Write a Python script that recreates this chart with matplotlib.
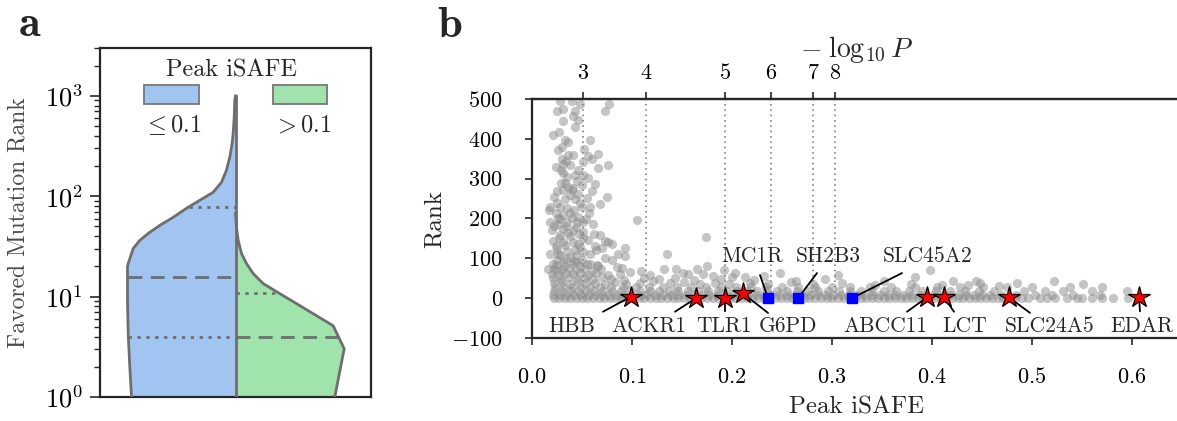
import numpy as np
import matplotlib
matplotlib.use("Agg")
import matplotlib.pyplot as plt
from matplotlib.patches import Rectangle

plt.rcParams['font.family'] = 'serif'
plt.rcParams['font.serif'] = ['cmr10']
plt.rcParams['mathtext.fontset'] = 'cm'
plt.rcParams['axes.formatter.use_mathtext'] = True
plt.rcParams['text.color'] = '#262626'
plt.rcParams['axes.labelcolor'] = '#262626'

# ---------------- panel a: split violin, log10(rank) vs half width ----------------
low_logr = [0, 0.30, 0.63, 0.96, 1.30, 1.33, 1.48, 1.56, 1.63, 1.71, 1.79, 1.88, 1.96, 2.04, 2.14, 2.26, 2.39, 2.53, 2.63, 2.79, 2.96, 3.0]
low_width = [104, 105.7, 107.3, 108, 108, 107.3, 102.3, 95.7, 87.3, 75.7, 62.3, 49, 35.7, 22.3, 14, 9, 5.7, 3.3, 2.3, 1.3, 0.7, 0]
high_logr = [0, 0.48, 0.71, 0.83, 0.95, 1.03, 1.13, 1.23, 1.33, 1.43, 1.56, 1.69, 1.83]
high_width = [99.3, 108.7, 97.7, 77.7, 57.7, 44.3, 27.7, 17.7, 11, 6, 2.7, 1, 0]
low_quart = [4.0, 15.7, 78]
low_quart_style = ['dotted', 'dashed', 'dotted']
high_quart = [4.0, 10.9]
high_quart_style = ['dashed', 'dotted']

# ---------------- panel b: scatter of rank vs peak iSAFE ----------------
upper_x = [0.028, 0.040, 0.048, 0.077, 0.025, 0.031, 0.043, 0.073, 0.041, 0.031, 0.046, 0.043, 0.027, 0.021,
           0.033, 0.036, 0.058, 0.026, 0.041, 0.056, 0.060, 0.066, 0.030, 0.031, 0.051, 0.076, 0.066, 0.029,
           0.031, 0.043, 0.035, 0.051, 0.056, 0.033, 0.063, 0.036, 0.041, 0.050, 0.025, 0.031, 0.040, 0.060,
           0.055, 0.075, 0.033, 0.043, 0.025, 0.068, 0.018, 0.028, 0.035, 0.050, 0.058, 0.038, 0.031, 0.105,
           0.026, 0.040, 0.035, 0.045, 0.051, 0.061, 0.026, 0.017, 0.018, 0.020, 0.031, 0.041, 0.051, 0.068,
           0.028, 0.038, 0.051, 0.056, 0.021, 0.031, 0.041, 0.046, 0.073, 0.076, 0.063, 0.070, 0.080, 0.025,
           0.035, 0.043, 0.086, 0.093, 0.051, 0.058, 0.028, 0.038, 0.073, 0.080, 0.021, 0.031, 0.045, 0.055,
           0.065, 0.085, 0.090, 0.098, 0.016, 0.025, 0.135, 0.174, 0.093, 0.132, 0.144, 0.165, 0.175, 0.151,
           0.171, 0.181, 0.203, 0.200, 0.213, 0.248, 0.398, 0.522, 0.551, 0.444, 0.448, 0.485,
           0.024, 0.033, 0.048, 0.027, 0.036, 0.047, 0.022, 0.034, 0.044, 0.028, 0.046, 0.054, 0.024, 0.042,
           0.048, 0.022, 0.038, 0.046, 0.029, 0.045, 0.024, 0.038, 0.046, 0.034, 0.052, 0.036, 0.030, 0.057,
           0.062, 0.064]
upper_y = [496, 496, 488, 488, 471, 474, 471, 471, 458, 446, 447, 429, 417, 409,
           398, 392, 396, 371, 360, 356, 350, 363, 350, 337, 342, 334, 328, 321,
           313, 308, 304, 308, 302, 288, 286, 280, 277, 284, 269, 271, 271, 269,
           252, 254, 248, 248, 240, 237, 230, 228, 227, 228, 228, 213, 210, 197,
           202, 202, 190, 192, 190, 186, 186, 221, 192, 170, 173, 170, 166, 159,
           158, 156, 150, 146, 144, 141, 141, 135, 144, 141, 131, 125, 135, 123,
           118, 120, 112, 125, 116, 112, 108, 104, 100, 96, 87, 91, 91, 87,
           83, 79, 75, 66, 72, 71, 112, 154, 105, 72, 72, 74, 80, 64,
           60, 56, 64, 52, 54, 62, 71, 42, 36, 42, 37, 39,
           130, 133, 128, 150, 163, 160, 182, 180, 178, 198, 205, 198, 215, 222,
           238, 255, 260, 262, 290, 295, 330, 335, 322, 345, 375, 360, 380, 215,
           160, 120]

mid_x = [0.022, 0.030, 0.038, 0.046, 0.054, 0.063, 0.073, 0.083, 0.094, 0.108, 0.121, 0.138, 0.152, 0.168,
         0.183, 0.197, 0.218, 0.236, 0.259, 0.281, 0.310, 0.343, 0.379, 0.410, 0.436, 0.467,
         0.021, 0.029, 0.037, 0.045, 0.053, 0.061, 0.070, 0.079, 0.092, 0.112, 0.127, 0.143, 0.162, 0.189,
         0.222, 0.264, 0.293, 0.352, 0.421,
         0.020, 0.027, 0.034, 0.041, 0.048, 0.056, 0.064, 0.076, 0.088, 0.118, 0.156, 0.232, 0.306, 0.383,
         0.022, 0.030, 0.037, 0.044, 0.052, 0.060, 0.069, 0.109, 0.192,
         0.024, 0.032, 0.040, 0.048, 0.058, 0.066, 0.025, 0.034, 0.042, 0.050, 0.018, 0.026, 0.044]
mid_y = [38, 40, 36, 41, 37, 39, 35, 40, 36, 38, 42, 37, 40, 36,
         39, 35, 38, 36, 40, 35, 37, 33, 36, 32, 34, 30,
         50, 48, 52, 49, 51, 47, 53, 49, 46, 50, 47, 51, 45, 48,
         46, 44, 47, 43, 44,
         61, 58, 63, 60, 64, 59, 62, 57, 60, 58, 61, 55, 57, 54,
         72, 70, 75, 71, 74, 69, 72, 69, 70,
         84, 82, 86, 81, 85, 80, 95, 98, 94, 97, 110, 110, 108]

# dense band close to rank 0, one list of positions per rank level
band_rank = [1, 9, 18, 27]
band_rows = [
    [0.022, 0.027, 0.033, 0.038, 0.044, 0.05, 0.055, 0.061, 0.067, 0.072, 0.078, 0.084, 0.089, 0.095, 0.101,
     0.107, 0.112, 0.118, 0.124, 0.129, 0.135, 0.141, 0.146, 0.152, 0.158, 0.163, 0.169, 0.175, 0.181, 0.186,
     0.192, 0.198, 0.203, 0.209, 0.215, 0.22, 0.226, 0.232, 0.238, 0.243, 0.249, 0.255, 0.26, 0.266, 0.272,
     0.277, 0.283, 0.289, 0.295, 0.3, 0.306, 0.312, 0.317, 0.323, 0.329, 0.334, 0.34, 0.346, 0.352, 0.357,
     0.363, 0.369, 0.374, 0.38, 0.386, 0.391, 0.397, 0.403, 0.409, 0.414, 0.42, 0.426, 0.431, 0.437, 0.443,
     0.448, 0.454, 0.46, 0.466, 0.471, 0.477, 0.483, 0.49, 0.496, 0.508, 0.515, 0.523, 0.535, 0.545, 0.55,
     0.56, 0.57, 0.581, 0.596],
    [0.021, 0.028, 0.035, 0.042, 0.049, 0.056, 0.063, 0.07, 0.077, 0.085, 0.092, 0.1, 0.108, 0.115, 0.123,
     0.131, 0.139, 0.146, 0.154, 0.162, 0.17, 0.177, 0.185, 0.193, 0.201, 0.208, 0.216, 0.224, 0.232, 0.239,
     0.247, 0.255, 0.263, 0.27, 0.278, 0.286, 0.294, 0.301, 0.309, 0.317, 0.325, 0.332, 0.34, 0.348, 0.356,
     0.363, 0.371, 0.379, 0.387, 0.394, 0.402, 0.41, 0.418, 0.426, 0.434, 0.442, 0.45, 0.458, 0.469, 0.484,
     0.503, 0.52, 0.541, 0.568],
    [0.022, 0.03, 0.038, 0.046, 0.054, 0.062, 0.071, 0.08, 0.089, 0.098, 0.108, 0.118, 0.127, 0.137, 0.146,
     0.156, 0.166, 0.176, 0.186, 0.195, 0.205, 0.215, 0.225, 0.235, 0.245, 0.255, 0.265, 0.276, 0.286, 0.296,
     0.307, 0.318, 0.329, 0.34, 0.352, 0.364, 0.377, 0.39, 0.404, 0.418, 0.433, 0.447, 0.462, 0.492, 0.513,
     0.531, 0.56, 0.595],
    [0.023, 0.031, 0.04, 0.049, 0.058, 0.068, 0.079, 0.091, 0.104, 0.117, 0.131, 0.145, 0.159, 0.174, 0.189,
     0.204, 0.219, 0.234, 0.25, 0.266, 0.283, 0.3, 0.318, 0.338, 0.359, 0.383, 0.405, 0.428, 0.451, 0.475,
     0.5, 0.538, 0.57],
]

genes = ['HBB', 'ACKR1', 'TLR1', 'G6PD', 'MC1R', 'SH2B3', 'SLC45A2', 'ABCC11', 'LCT', 'SLC24A5', 'EDAR']
gene_x = [0.099, 0.164, 0.193, 0.211, 0.236, 0.266, 0.320, 0.395, 0.412, 0.477, 0.607]
gene_y = [4, 0, 0, 12, 0, 0, 0, 2, 2, 2, 2]
gene_star = [True, True, True, True, False, False, False, True, True, True, True]

# -log10 P reference lines
logp = [3, 4, 5, 6, 7, 8]
logp_isafe = [0.0507, 0.1137, 0.1933, 0.2387, 0.2813, 0.3027]

# label layout: text centre and leader line start (data coords)
lab_pos = [(0.040, -71), (0.117, -71), (0.192, -71), (0.256, -71), (0.220, 104), (0.296, 104),
           (0.396, 104), (0.353, -71), (0.433, -71), (0.518, -71), (0.610, -71)]
lead_pos = [(0.071, -34), (0.143, -34), (0.193, -33), (0.236, -37), (0.228, 58), (0.285, 63),
            (0.370, 63), (0.375, -34), (0.422, -34), (0.498, -37), (0.608, -33)]

edge = '#6e6e6e'
blue = '#a1c5f0'
green = '#a0e3ad'
spine_c = '#262626'

fig = plt.figure(figsize=(11.77, 4.21), dpi=100)

# ---------------- panel a ----------------
ax = fig.add_axes([100/1177, 24/421, 271/1177, 349/421])
ax.set_yscale('log')
sc = 135.5
lr = 10**np.array(low_logr)
hr = 10**np.array(high_logr)
lw_ = np.array(low_width)/sc
hw_ = np.array(high_width)/sc
ax.fill_betweenx(lr, -lw_, 0, color=blue, lw=0, zorder=1)
ax.fill_betweenx(hr, 0, hw_, color=green, lw=0, zorder=1)
ax.plot(-lw_, lr, color=edge, lw=2.0, zorder=3, solid_joinstyle='round')
ax.plot(hw_, hr, color=edge, lw=2.0, zorder=3, solid_joinstyle='round')
ax.plot([0, 0], [1, lr[-1]], color=edge, lw=2.0, zorder=3)

dash_map = {'dashed': (0, (5, 3)), 'dotted': (0, (1.2, 2))}
for q, st in zip(low_quart, low_quart_style):
    w = np.interp(np.log10(q), low_logr, low_width)/sc
    ax.plot([-w, 0], [q, q], color=edge, lw=2.0, ls=dash_map[st], zorder=2)
for q, st in zip(high_quart, high_quart_style):
    w = np.interp(np.log10(q), high_logr, high_width)/sc
    ax.plot([0, w], [q, q], color=edge, lw=2.0, ls=dash_map[st], zorder=2)

ax.set_xlim(-1, 1)
ax.set_ylim(1, 3000)
ax.set_xticks([])
ax.tick_params(axis='y', which='major', length=7.5, width=1.2, pad=5, labelsize=19, color=spine_c)
ax.tick_params(axis='y', which='minor', length=4, width=1.0, color=spine_c)
for s in ax.spines.values():
    s.set_linewidth(1.6)
    s.set_color(spine_c)
ax.set_ylabel('Favored Mutation Rank', fontsize=17, color='#4a4a4a')
ax.yaxis.set_label_coords(-0.259, 0.5)

# legend drawn by hand: title, patches, labels below
ax.text(0.484, 0.937, 'Peak iSAFE', transform=ax.transAxes, ha='center', va='center', fontsize=17.5)
ax.add_patch(Rectangle((0.162, 0.840), 0.203, 0.054, transform=ax.transAxes,
                       facecolor=blue, edgecolor='#777777', lw=1.3))
ax.add_patch(Rectangle((0.638, 0.840), 0.200, 0.054, transform=ax.transAxes,
                       facecolor=green, edgecolor='#777777', lw=1.3))
ax.text(0.266, 0.779, r'$\leq 0.1$', transform=ax.transAxes, ha='center', va='center', fontsize=17.5)
ax.text(0.745, 0.779, r'$> 0.1$', transform=ax.transAxes, ha='center', va='center', fontsize=17.5)

# ---------------- panel b ----------------
bx = fig.add_axes([532/1177, 83/421, 650/1177, 239/421])
for x in logp_isafe:
    bx.plot([x, x], [0, 500], color='#707070', lw=1.1, ls=(0, (1, 2.5)), zorder=1)

bx.scatter(upper_x, upper_y, s=44, color='#8c8c8c', alpha=0.5, lw=0, zorder=2)
bx.scatter(mid_x, mid_y, s=44, color='#8c8c8c', alpha=0.5, lw=0, zorder=2)
for r, row in zip(band_rank, band_rows):
    bx.scatter(row, [r]*len(row), s=44, color='#8c8c8c', alpha=0.5, lw=0, zorder=2)

for i, g in enumerate(genes):
    bx.annotate('', xy=(gene_x[i], gene_y[i]), xytext=lead_pos[i],
                arrowprops=dict(arrowstyle='-', color='black', lw=1.3, shrinkA=0, shrinkB=0), zorder=3)
    bx.text(lab_pos[i][0], lab_pos[i][1], g, ha='center', va='center', fontsize=15.5)
sx = [x for x, s in zip(gene_x, gene_star) if s]
sy = [y for y, s in zip(gene_y, gene_star) if s]
qx = [x for x, s in zip(gene_x, gene_star) if not s]
qy = [y for y, s in zip(gene_y, gene_star) if not s]
bx.plot(sx, sy, ls='none', marker='*', ms=16, mfc='#ff0000', mec='black', mew=0.9, zorder=4)
bx.plot(qx, qy, ls='none', marker='s', ms=6.5, mfc='#0000ff', mec='#0000ff', zorder=4)

bx.set_xlim(0, 0.65)
bx.set_ylim(-100, 500)
bx.set_xticks([0.0, 0.1, 0.2, 0.3, 0.4, 0.5, 0.6])
bx.set_yticks([-100, 0, 100, 200, 300, 400, 500])
bx.tick_params(length=5, width=1.2, pad=16, labelsize=16, color=spine_c)
bx.spines['right'].set_visible(False)
for s in ['left', 'bottom', 'top']:
    bx.spines[s].set_linewidth(1.6)
    bx.spines[s].set_color(spine_c)
bx.set_xlabel('Peak iSAFE', fontsize=18)
bx.xaxis.set_label_coords(0.5, -0.243)
bx.set_ylabel('Rank', fontsize=18)
bx.yaxis.set_label_coords(-0.132, 0.5)

tx = bx.twiny()
tx.set_xlim(0, 0.65)
tx.set_xticks(logp_isafe)
tx.set_xticklabels([str(p) for p in logp])
tx.tick_params(length=4.8, width=1.2, pad=7, labelsize=16, color=spine_c)
for s in ['left', 'right', 'bottom']:
    tx.spines[s].set_visible(False)
tx.spines['top'].set_linewidth(1.6)
tx.spines['top'].set_color(spine_c)
tx.set_xlabel(r'$-\;\log_{10}P$', fontsize=20)
tx.xaxis.set_label_coords(0.5, 1.176)

fig.text(18/1177, 1 - 36/421, r'$\mathbf{a}$', fontsize=32, va='baseline')
fig.text(437/1177, 1 - 37/421, r'$\mathbf{b}$', fontsize=32, va='baseline')

fig.savefig('out.png', dpi=100)
